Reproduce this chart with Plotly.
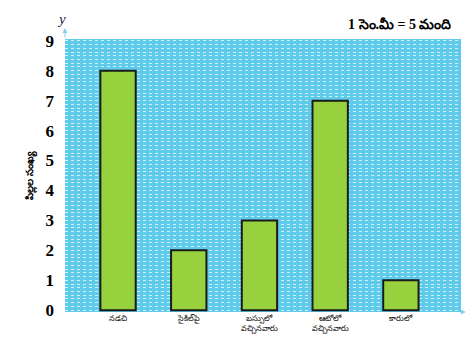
import plotly.graph_objects as go

categories = ["నడచి", "సైకిల్‌పై", "బస్సులో<br>వచ్చినవారు", "ఆటోలో<br>వచ్చినవారు", "కారులో"]
values = [8, 2, 3, 7, 1]
y_ticks = [0, 1, 2, 3, 4, 5, 6, 7, 8, 9]
y_title = "పిల్లల సంఖ్య"
scale_note = "1 సెం.మీ = 5 మంది"

fig = go.Figure()
fig.add_trace(go.Bar(
    x=list(range(len(categories))),
    y=values,
    width=0.5,
    marker=dict(color="#97d23e", line=dict(color="#1a1a1a", width=2)),
))

fig.update_layout(
    width=474, height=338,
    margin=dict(l=57, r=21, t=31, b=22),
    paper_bgcolor="white",
    plot_bgcolor="#5ecbea",
    showlegend=False,
    font=dict(family="Liberation Serif", color="black"),
    xaxis=dict(
        range=[-0.75, 4.85],
        tickmode="array",
        tickvals=list(range(len(categories))),
        ticktext=categories,
        tickfont=dict(size=8, family="Noto Sans"),
        showgrid=False, zeroline=False, showline=False,
        ticks="", ticklen=0,
    ),
    yaxis=dict(
        range=[-0.06, 9.06],
        tickmode="array",
        tickvals=y_ticks,
        ticktext=["<b>%d</b>" % t for t in y_ticks],
        tickfont=dict(size=17, family="Liberation Serif"),
        ticklabelstandoff=10,
        showgrid=False, zeroline=False, showline=False,
        minor=dict(dtick=0.125, showgrid=True, gridcolor="rgba(255,255,255,0.7)",
                   griddash="dot", gridwidth=1),
        title=dict(text="<b>" + y_title + "</b>", font=dict(size=10, family="Noto Sans"), standoff=10),
    ),
)

# axis arrows
fig.add_annotation(xref="x domain", yref="y domain", x=0, y=1.04, ax=0, ay=1.0,
                   axref="x domain", ayref="y domain", showarrow=True, arrowhead=2,
                   arrowsize=1, arrowwidth=1, arrowcolor="#7fd3ea", text="")
fig.add_annotation(xref="x domain", yref="y domain", x=1.012, y=0, ax=1.0, ay=0,
                   axref="x domain", ayref="y domain", showarrow=True, arrowhead=2,
                   arrowsize=1, arrowwidth=1, arrowcolor="#7fd3ea", text="")
fig.add_annotation(xref="paper", yref="paper", x=-0.01, y=1.035, xanchor="center",
                   yanchor="bottom", showarrow=False, text="<i>y</i>",
                   font=dict(size=15, family="Liberation Serif", color="#1a1a40"))
fig.add_annotation(xref="paper", yref="paper", x=1.013, y=-0.005, xanchor="left",
                   yanchor="middle", showarrow=False, text="<i>x</i>", borderpad=0,
                   font=dict(size=13, family="Liberation Serif", color="#1a1a40"))
fig.add_annotation(xref="paper", yref="paper", x=0.98, y=1.02, xanchor="right",
                   yanchor="bottom", showarrow=False, text="<b>" + scale_note + "</b>",
                   font=dict(size=14, family="Liberation Serif"))

fig.write_html("out.html")
